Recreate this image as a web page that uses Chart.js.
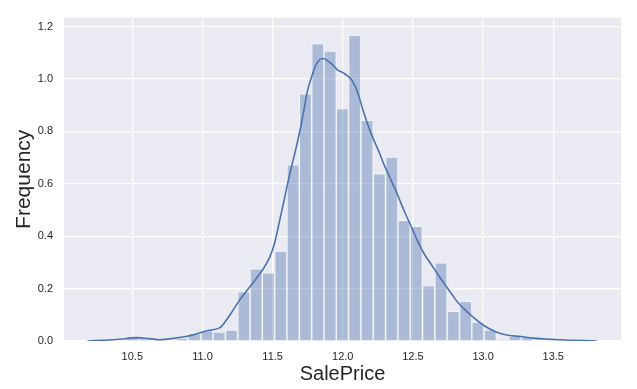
<!DOCTYPE html>
<html>
<head>
<meta charset="utf-8">
<script src="https://cdn.jsdelivr.net/npm/chart.js@4"></script>
<style>
  html, body { margin: 0; padding: 0; background: #ffffff; }
</style>
</head>
<body>
<canvas id="distChart" width="637" height="389"></canvas>
<script>
// histogram bins (log SalePrice), bin centres
const binCenters = [
    10.504, 10.592, 10.680, 10.768, 10.856, 10.943, 11.031, 11.119, 11.207, 11.295,
    11.383, 11.470, 11.558, 11.646, 11.734, 11.822, 11.910, 11.997, 12.085, 12.173,
    12.261, 12.349, 12.437, 12.524, 12.612, 12.700, 12.788, 12.876, 12.963, 13.051,
    13.139, 13.227, 13.315, 13.403, 13.490
];
const binDensity = [
    0.019, 0.008, 0.000, 0.000, 0.011, 0.028, 0.039, 0.034, 0.042, 0.189,
    0.275, 0.260, 0.343, 0.672, 0.943, 1.135, 1.106, 0.887, 1.166, 0.842,
    0.638, 0.702, 0.460, 0.438, 0.211, 0.298, 0.113, 0.151, 0.072, 0.042,
    0.005, 0.018, 0.015, 0.000, 0.011
];

// kde curve
const kdeX = [
    10.181, 10.336, 10.457, 10.528, 10.621, 10.693, 10.764, 10.871, 10.942, 11.026,
    11.121, 11.168, 11.215, 11.263, 11.335, 11.429, 11.477, 11.513, 11.548, 11.584,
    11.620, 11.679, 11.715, 11.750, 11.786, 11.822, 11.857, 11.893, 11.929, 11.964,
    12.000, 12.036, 12.071, 12.107, 12.143, 12.178, 12.214, 12.250, 12.297, 12.345,
    12.392, 12.440, 12.488, 12.535, 12.583, 12.631, 12.678, 12.725, 12.775, 12.830,
    12.916, 13.006, 13.094, 13.177, 13.268, 13.355, 13.446, 13.534, 13.617, 13.810
];
const kdeY = [
    0.000, 0.004, 0.009, 0.013, 0.009, 0.005, 0.008, 0.016, 0.025, 0.038,
    0.050, 0.078, 0.115, 0.155, 0.205, 0.272, 0.317, 0.372, 0.455, 0.543,
    0.632, 0.764, 0.858, 0.958, 1.021, 1.066, 1.078, 1.069, 1.053, 1.034,
    1.024, 1.011, 0.990, 0.946, 0.883, 0.826, 0.776, 0.732, 0.669, 0.613,
    0.556, 0.493, 0.437, 0.380, 0.330, 0.292, 0.254, 0.218, 0.180, 0.141,
    0.097, 0.059, 0.034, 0.022, 0.017, 0.011, 0.0075, 0.005, 0.003, 0.000
];

const xTicks = [10.5, 11.0, 11.5, 12.0, 12.5, 13.0, 13.5];
const yTicks = [0.0, 0.2, 0.4, 0.6, 0.8, 1.0, 1.2];

const textColor = '#262626';
const seabornBlue = '#4c72b0';

// grey panel behind the plot, like seaborn darkgrid
const panelBackground = {
    id: 'panelBackground',
    beforeDraw(chart) {
        const { ctx, chartArea: a } = chart;
        ctx.save();
        ctx.fillStyle = '#eaeaf2';
        ctx.fillRect(a.left, a.top, a.right - a.left, a.bottom - a.top);
        ctx.restore();
    }
};

new Chart(document.getElementById('distChart'), {
    type: 'bar',
    data: {
        datasets: [
            {
                type: 'line',
                label: 'kde',
                data: kdeX.map((x, i) => ({ x: x, y: kdeY[i] })),
                borderColor: seabornBlue,
                borderWidth: 1.6,
                pointRadius: 0,
                tension: 0.4,
                fill: false,
                order: 0
            },
            {
                label: 'hist',
                data: binCenters.map((x, i) => ({ x: x, y: binDensity[i] })),
                backgroundColor: 'rgba(76, 114, 176, 0.4)',
                borderColor: 'rgba(255, 255, 255, 0.45)',
                borderWidth: 1,
                barPercentage: 1.0,
                categoryPercentage: 1.0,
                order: 1
            }
        ]
    },
    options: {
        responsive: false,
        animation: false,
        layout: { padding: { top: 16, right: 16, left: 0, bottom: 0 } },
        plugins: {
            legend: { display: false },
            tooltip: { enabled: false }
        },
        scales: {
            x: {
                type: 'linear',
                min: 10.013,
                max: 13.983,
                offset: false,
                border: { display: false },
                grid: { color: '#ffffff', lineWidth: 1.2, drawTicks: false, offset: false },
                afterBuildTicks: axis => { axis.ticks = xTicks.map(v => ({ value: v })); },
                afterFit: axis => { axis.height = 48; },
                ticks: {
                    padding: 9,
                    color: textColor,
                    font: { family: 'Liberation Sans, Arial, sans-serif', size: 11 },
                    callback: v => v.toFixed(1)
                },
                title: {
                    display: true,
                    text: 'SalePrice',
                    color: textColor,
                    font: { family: 'Liberation Sans, Arial, sans-serif', size: 20 },
                    padding: { top: 0, bottom: 3 }
                }
            },
            y: {
                min: 0,
                max: 1.234,
                border: { display: false },
                grid: { color: '#ffffff', lineWidth: 1.2, drawTicks: false },
                afterBuildTicks: axis => { axis.ticks = yTicks.map(v => ({ value: v })); },
                afterFit: axis => { axis.width = 64; },
                ticks: {
                    padding: 11,
                    color: textColor,
                    font: { family: 'Liberation Sans, Arial, sans-serif', size: 11 },
                    callback: v => v.toFixed(1)
                },
                title: {
                    display: true,
                    text: 'Frequency',
                    color: textColor,
                    font: { family: 'Liberation Sans, Arial, sans-serif', size: 21 },
                    padding: { top: 12, bottom: 0 }
                }
            }
        }
    },
    plugins: [panelBackground]
});
</script>
</body>
</html>
